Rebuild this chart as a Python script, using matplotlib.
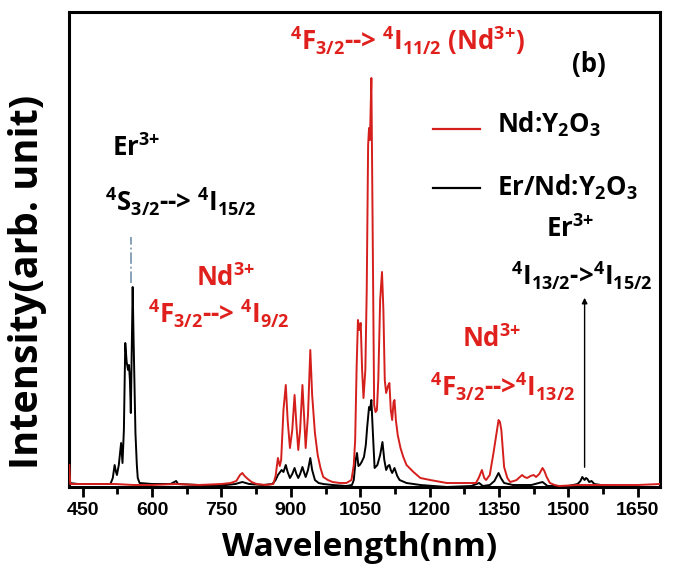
import matplotlib
matplotlib.use("Agg")
import matplotlib.pyplot as plt

# emission spectra (wavelength in nm, intensity in arb. units)
nd_wl = [421, 423, 430, 480, 520, 560, 600, 650, 700, 750, 770, 782, 790, 795, 800, 807, 815, 826,
         845, 862, 867, 872, 876, 879, 884, 889, 893, 898, 903, 908, 912, 916, 920, 925, 929, 932,
         937, 942, 946, 952, 958, 964, 970, 980, 990, 1006, 1020, 1031, 1036, 1039, 1042, 1045, 1048,
         1051, 1054, 1057, 1061, 1064, 1067, 1069, 1071, 1074, 1077, 1080, 1083, 1086, 1089, 1093,
         1097, 1100, 1103, 1106, 1110, 1113, 1116, 1119, 1122, 1124, 1127, 1131, 1137, 1143, 1150,
         1165, 1180, 1201, 1237, 1270, 1300, 1306, 1313, 1318, 1322, 1330, 1338, 1344, 1349, 1352,
         1355, 1361, 1368, 1374, 1382, 1388, 1395, 1400, 1405, 1411, 1418, 1425, 1430, 1437, 1444,
         1448, 1453, 1460, 1470, 1480, 1520, 1560, 1600, 1650, 1698]
nd_int = [25, 6, 6, 6, 6, 5, 5, 6, 5, 6, 7, 9, 15, 17, 14, 11, 8, 6,
          5, 6, 14, 32, 24, 30, 80, 105, 70, 42, 60, 95, 65, 40, 60, 105, 70, 42,
          75, 140, 95, 57, 35, 22, 13, 10, 8, 7, 7, 10, 25, 50, 120, 170, 160,
          167, 120, 92, 120, 200, 345, 362, 350, 412, 250, 85, 78, 80, 110, 190,
          218, 180, 110, 97, 104, 107, 80, 70, 88, 90, 70, 55, 42, 33, 25,
          18, 12, 10, 7, 7, 7, 12, 20, 12, 10, 15, 37, 55, 70, 68,
          60, 23, 12, 8, 9, 10, 13, 15, 13, 12, 14, 15, 13, 16, 22,
          19, 13, 7, 5, 4, 5, 5, 5, 5, 6]

er_wl = [421, 440, 480, 510, 515, 519, 522, 524, 528, 533, 536, 539, 542, 545, 548, 550, 552, 554,
         556, 558, 560, 564, 567, 569, 573, 600, 640, 652, 656, 700, 760, 780, 795, 810, 840, 860,
         867, 872, 880, 884, 889, 893, 898, 903, 908, 912, 916, 920, 925, 929, 932, 937, 942, 946,
         952, 960, 970, 990, 1020, 1032, 1036, 1040, 1043, 1046, 1049, 1053, 1058, 1062, 1065, 1069,
         1071, 1074, 1077, 1081, 1087, 1093, 1098, 1102, 1106, 1110, 1113, 1116, 1119, 1124, 1130,
         1135, 1150, 1180, 1237, 1290, 1307, 1315, 1330, 1340, 1349, 1354, 1361, 1380, 1420, 1444,
         1455, 1500, 1520, 1526, 1530, 1535, 1538, 1541, 1545, 1550, 1556, 1570, 1590, 1620, 1698]
er_int = [7, 6, 6, 6, 12, 25, 18, 15, 25, 47, 27, 60, 147, 128, 120, 125, 110, 77,
          140, 203, 150, 57, 25, 12, 7, 6, 6, 9, 6, 5, 5, 6, 8, 6, 5, 6,
          10, 15, 20, 18, 25, 18, 12, 16, 22, 16, 12, 16, 23, 17, 13, 20, 32, 20,
          10, 7, 6, 5, 4, 5, 10, 30, 37, 24, 25, 28, 33, 45, 63, 83,
          80, 90, 60, 22, 25, 35, 48, 30, 20, 24, 25, 20, 17, 22, 14,
          10, 7, 5, 3, 4, 7, 4, 5, 9, 17, 12, 7, 5, 5, 8,
          4, 4, 6, 9, 13, 10, 12, 11, 8, 9, 6, 5, 4, 3, 3]

xticks = [450, 600, 750, 900, 1050, 1200, 1350, 1500, 1650]

RED = '#d41f1c'
TXT_RED = '#e0201c'

plt.rcParams['mathtext.fontset'] = 'custom'
plt.rcParams['mathtext.rm'] = 'Open Sans:bold'
plt.rcParams['mathtext.it'] = 'Open Sans:bold'
plt.rcParams['mathtext.bf'] = 'Open Sans:bold'
plt.rcParams['mathtext.default'] = 'rm'

W, H = 678, 575
fig = plt.figure(figsize=(W / 100, H / 100), dpi=100)
ax = fig.add_axes([69.3 / W, 1 - 486.7 / H, (660 - 69.3) / W, (486.7 - 11.7) / H])

ax.plot(er_wl, er_int, color='black', lw=1.4, zorder=3)
ax.plot(nd_wl, nd_int, color=RED, lw=1.4, zorder=4)

ax.set_xlim(421, 1698)
ax.set_ylim(3.3, 478.3)

ax.set_xticks(xticks)
ax.set_xticks(range(525, 1700, 150), minor=True)
ax.set_yticks([])
for s in ax.spines.values():
    s.set_linewidth(2.2)
ax.tick_params(axis='x', which='major', direction='out', length=7, width=2, pad=4)
ax.tick_params(axis='x', which='minor', direction='out', length=5, width=2)
for lab in ax.get_xticklabels():
    lab.set_fontfamily(['Liberation Sans', 'DejaVu Sans'])
    lab.set_fontweight('bold')
    lab.set_fontsize(14)

# marker lines
ax.plot([554, 554], [207, 253], color='#7f9bb5', lw=1.3, ls='-.', zorder=2)
ax.annotate('', xy=(1535, 195), xytext=(1535, 20),
            arrowprops=dict(arrowstyle='-|>', color='black', lw=1.0, mutation_scale=8))

txt = dict(family='Open Sans', weight='bold', fontsize=18.5, va='baseline', ha='left')


def put(x, y, s, color='black', **kw):
    opts = dict(txt)
    opts.update(kw)
    fig.text(x / W, 1 - y / H, s, color=color, **opts)


put(112, 156, 'Er$^{3{+}}$')
put(105, 211.7, '$^{4}$S$_{3/2}$--> $^{4}$I$_{15/2}$')
put(196, 285.7, 'Nd$^{3{+}}$', TXT_RED)
put(148, 323.3, '$^{4}$F$_{3/2}$--> $^{4}$I$_{9/2}$', TXT_RED)
put(290, 50, '$^{4}$F$_{3/2}$--> $^{4}$I$_{11/2}$ (Nd$^{3{+}}$)', TXT_RED)
put(572, 72, '(b)')
put(546, 236.7, 'Er$^{3{+}}$')
put(511, 285, '$^{4}$I$_{13/2}$->$^{4}$I$_{15/2}$')
put(462, 347.3, 'Nd$^{3{+}}$', TXT_RED)
put(430, 396.7, '$^{4}$F$_{3/2}$-->$^{4}$I$_{13/2}$', TXT_RED)

# legend drawn by hand to match the layout
fig.add_artist(plt.Line2D([433.3 / W, 480 / W], [1 - 129.3 / H] * 2, color=RED, lw=1.6))
fig.add_artist(plt.Line2D([433.3 / W, 480 / W], [1 - 188.3 / H] * 2, color='black', lw=1.6))
put(496.7, 132.3, 'Nd:Y$_{2}$O$_{3}$')
put(496.7, 195, 'Er/Nd:Y$_{2}$O$_{3}$')

fig.text(360 / W, 1 - 548 / H, 'Wavelength(nm)', family='Open Sans', weight='bold',
         fontsize=24, ha='center', va='center')
fig.text(28 / W, 1 - 282 / H, 'Intensity(arb. unit)', family='Open Sans', weight='bold',
         fontsize=28.5, ha='center', va='center', rotation=90)

fig.savefig('out.png', dpi=100)
